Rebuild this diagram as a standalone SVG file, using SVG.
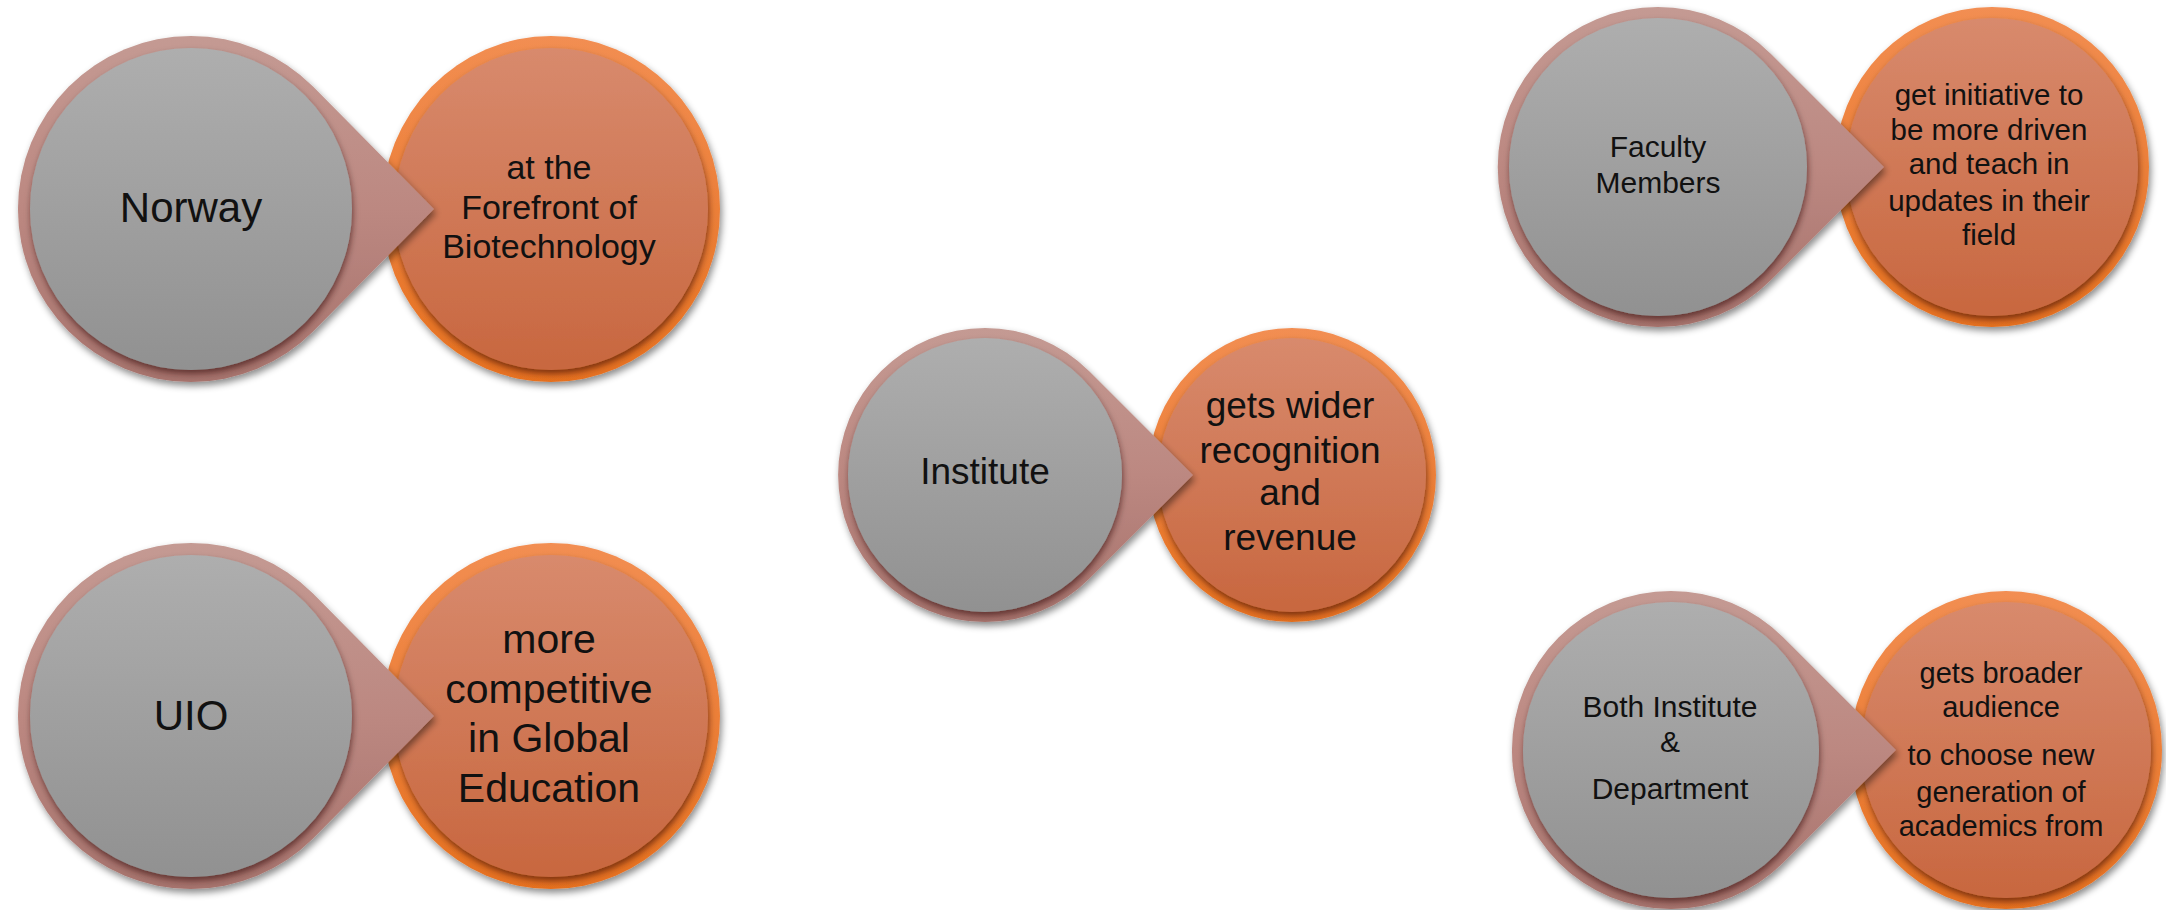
<svg xmlns="http://www.w3.org/2000/svg" width="2166" height="910" viewBox="0 0 2166 910">
  <defs>
    <!-- soft drop shadow under each outer shape -->
    <filter id="outerShadow" x="-20%" y="-20%" width="140%" height="150%">
      <feGaussianBlur in="SourceAlpha" stdDeviation="3.5"/>
      <feOffset dx="2" dy="4" result="blur"/>
      <feFlood flood-color="#000" flood-opacity="0.45"/>
      <feComposite in2="blur" operator="in"/>
      <feMerge><feMergeNode/><feMergeNode in="SourceGraphic"/></feMerge>
    </filter>
    <!-- shadow cast by the inner disc onto its ring -->
    <filter id="innerShadow" x="-20%" y="-20%" width="140%" height="150%">
      <feGaussianBlur in="SourceAlpha" stdDeviation="3"/>
      <feOffset dx="1" dy="4" result="blur"/>
      <feFlood flood-color="#2a0d05" flood-opacity="0.55"/>
      <feComposite in2="blur" operator="in"/>
      <feMerge><feMergeNode/><feMergeNode in="SourceGraphic"/></feMerge>
    </filter>
    <linearGradient id="ringPink" x1="0" y1="0" x2="0" y2="1">
      <stop offset="0" stop-color="#C49A93"/>
      <stop offset="0.5" stop-color="#BC8881"/>
      <stop offset="1" stop-color="#A6726C"/>
    </linearGradient>
    <linearGradient id="discGray" x1="0" y1="0" x2="0" y2="1">
      <stop offset="0" stop-color="#AEAEAE"/>
      <stop offset="1" stop-color="#919191"/>
    </linearGradient>
    <linearGradient id="ringOrange" x1="0" y1="0" x2="0" y2="1">
      <stop offset="0" stop-color="#F28E52"/>
      <stop offset="1" stop-color="#E6701F"/>
    </linearGradient>
    <linearGradient id="discOrange" x1="0" y1="0" x2="0" y2="1">
      <stop offset="0" stop-color="#D88A6D"/>
      <stop offset="1" stop-color="#C8673F"/>
    </linearGradient>
  </defs>
  <style>
    .ring-src { fill: url(#ringPink); filter: url(#outerShadow); }
    .disc-src { fill: url(#discGray); filter: url(#innerShadow); }
    .ring-dst { fill: url(#ringOrange); filter: url(#outerShadow); }
    .disc-dst { fill: url(#discOrange); filter: url(#innerShadow); }
    text { font-family: "Liberation Sans", Arial, sans-serif; fill: #111; text-anchor: middle; }
  </style>

  <rect width="2166" height="910" fill="#fff"/>

  <!-- result circles (drawn first so the pointers overlap them) -->
  <g id="norway-result">
    <ellipse class="ring-dst" cx="551" cy="209" rx="169" ry="173"/>
    <ellipse class="disc-dst" cx="551" cy="209" rx="157" ry="161"/>
    <text font-size="34"><tspan x="549" y="179">at the</tspan><tspan x="549" y="219">Forefront of</tspan><tspan x="549" y="258">Biotechnology</tspan></text>
  </g>
  <g id="uio-result">
    <ellipse class="ring-dst" cx="551" cy="716" rx="169" ry="173"/>
    <ellipse class="disc-dst" cx="551" cy="716" rx="157" ry="161"/>
    <text font-size="41"><tspan x="549" y="653">more</tspan><tspan x="549" y="703">competitive</tspan><tspan x="549" y="752">in Global</tspan><tspan x="549" y="802">Education</tspan></text>
  </g>
  <g id="institute-result">
    <ellipse class="ring-dst" cx="1292" cy="475" rx="144" ry="147"/>
    <ellipse class="disc-dst" cx="1292" cy="475" rx="134" ry="137"/>
    <text font-size="37"><tspan x="1290" y="418">gets wider</tspan><tspan x="1290" y="463">recognition</tspan><tspan x="1290" y="505">and</tspan><tspan x="1290" y="550">revenue</tspan></text>
  </g>
  <g id="faculty-result">
    <ellipse class="ring-dst" cx="1992" cy="167" rx="157" ry="160"/>
    <ellipse class="disc-dst" cx="1992" cy="167" rx="146" ry="149"/>
    <text font-size="29.5"><tspan x="1989" y="105">get initiative to</tspan><tspan x="1989" y="140">be more driven</tspan><tspan x="1989" y="174">and teach in</tspan><tspan x="1989" y="211">updates in their</tspan><tspan x="1989" y="245">field</tspan></text>
  </g>
  <g id="both-result">
    <ellipse class="ring-dst" cx="2006" cy="750" rx="156" ry="159"/>
    <ellipse class="disc-dst" cx="2006" cy="750" rx="145" ry="148"/>
    <text font-size="29"><tspan x="2001" y="683">gets broader</tspan><tspan x="2001" y="717">audience</tspan><tspan x="2001" y="765">to choose new</tspan><tspan x="2001" y="802">generation of</tspan><tspan x="2001" y="836">academics from</tspan></text>
  </g>

  <!-- source circles: ring with a pointer toward the result, grey disc on top -->
  <g id="norway">
    <path class="ring-src" d="M434 209 L313.3 86.7 A173 173 0 1 0 313.3 331.3 Z"/>
    <circle class="disc-src" cx="191" cy="209" r="161"/>
    <text font-size="42" x="191" y="222">Norway</text>
  </g>
  <g id="uio">
    <path class="ring-src" d="M434 716 L313.3 593.7 A173 173 0 1 0 313.3 838.3 Z"/>
    <circle class="disc-src" cx="191" cy="716" r="161"/>
    <text font-size="42" x="191" y="730">UIO</text>
  </g>
  <g id="institute">
    <path class="ring-src" d="M1193 475 L1089 371 A147 147 0 1 0 1089 579 Z"/>
    <circle class="disc-src" cx="985" cy="475" r="137"/>
    <text font-size="37" x="985" y="484">Institute</text>
  </g>
  <g id="faculty">
    <path class="ring-src" d="M1884 167 L1771 54 A160 160 0 1 0 1771 280 Z"/>
    <circle class="disc-src" cx="1658" cy="167" r="149"/>
    <text font-size="30"><tspan x="1658" y="157">Faculty</tspan><tspan x="1658" y="193">Members</tspan></text>
  </g>
  <g id="both">
    <path class="ring-src" d="M1896 750 L1783.4 637.6 A159 159 0 1 0 1783.4 862.4 Z"/>
    <circle class="disc-src" cx="1671" cy="750" r="148"/>
    <text font-size="30"><tspan x="1670" y="717">Both Institute</tspan><tspan x="1670" y="752">&amp;</tspan><tspan x="1670" y="799">Department</tspan></text>
  </g>
</svg>
